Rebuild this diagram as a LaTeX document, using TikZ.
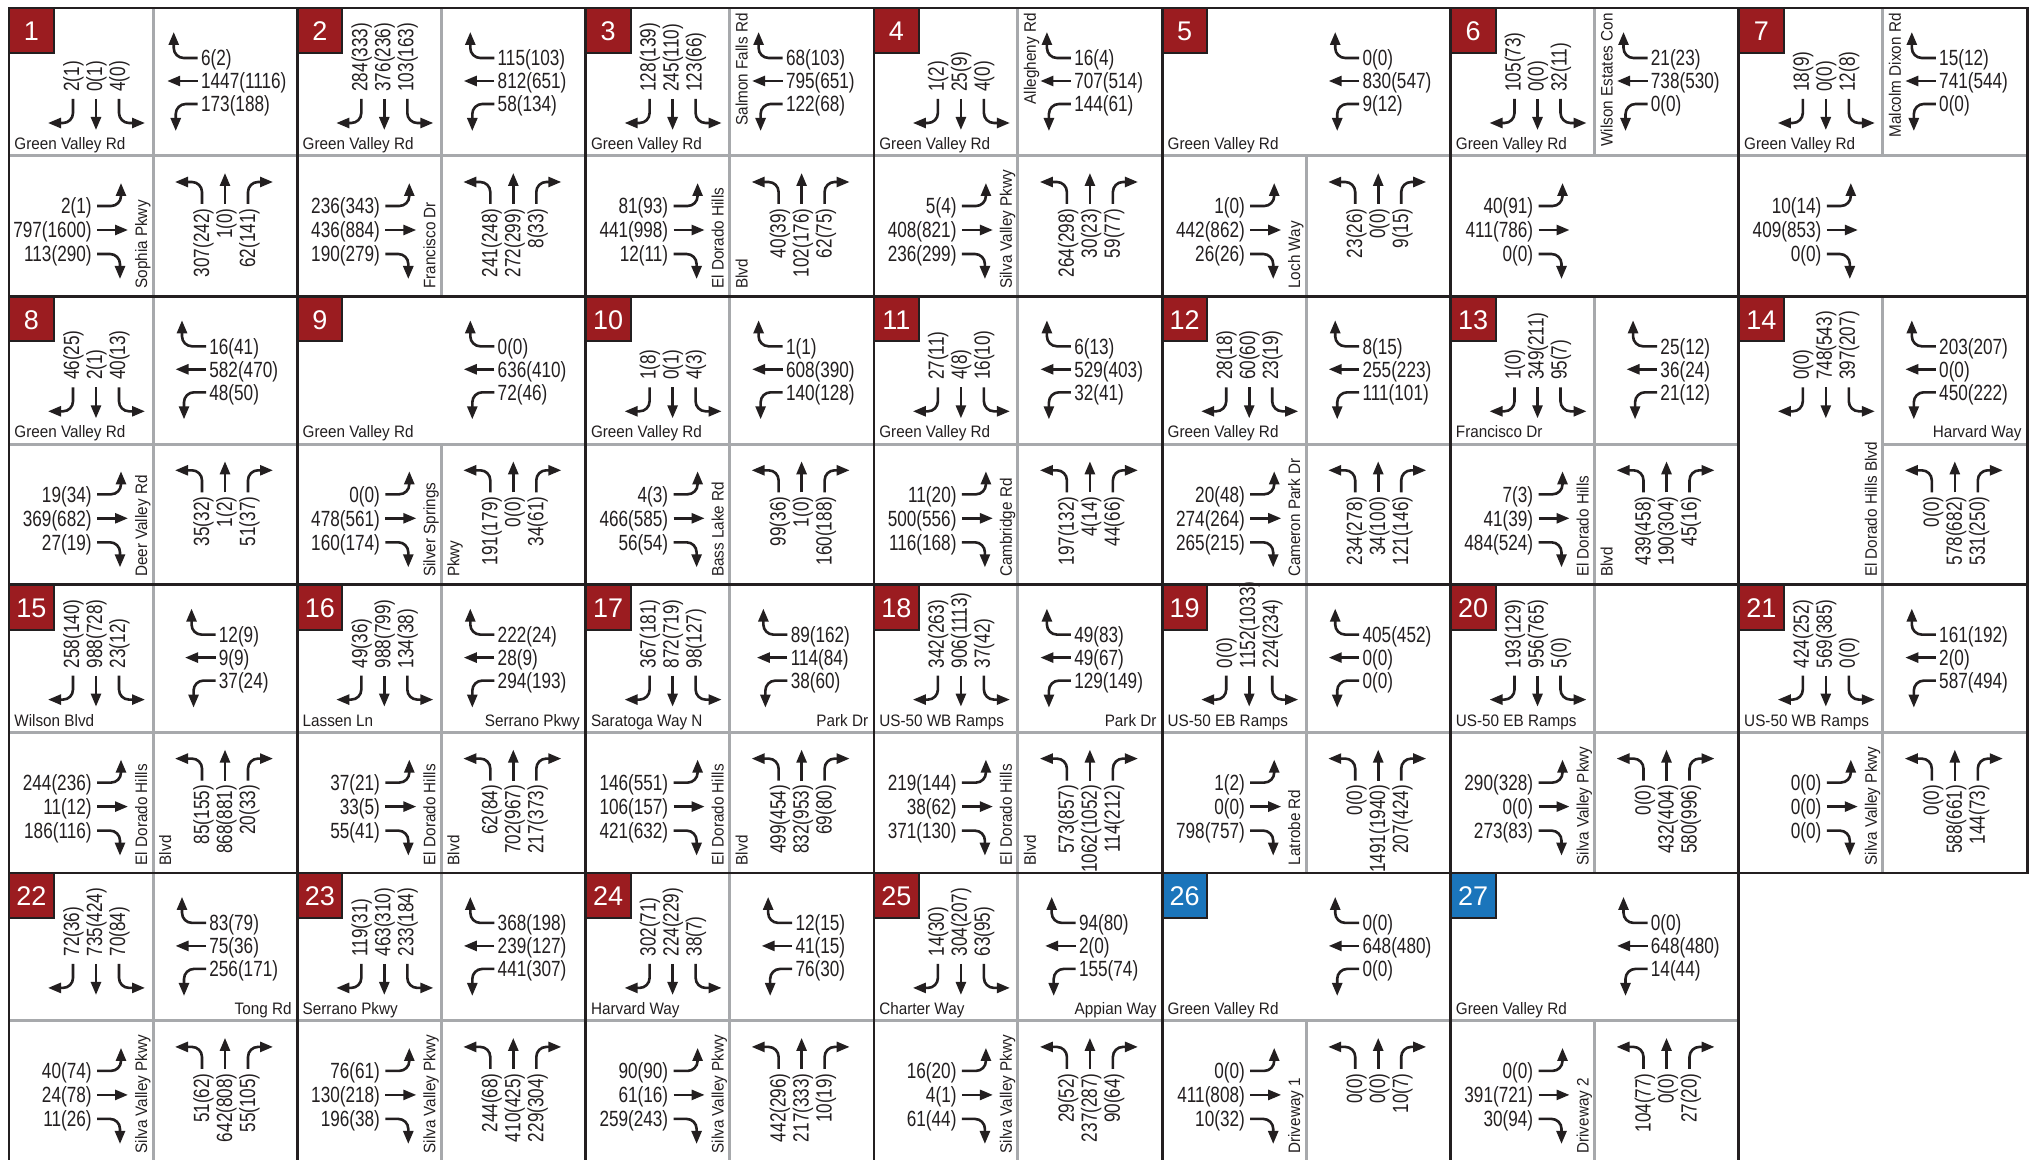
\documentclass[tikz,border=0pt]{standalone}
\usepackage{fontspec}
\setmainfont{Liberation Sans}
\newfontfamily\volfam[FakeStretch=0.78]{Liberation Sans}
\newfontfamily\roadfam[FakeStretch=0.92]{Liberation Sans}
\usetikzlibrary{arrows.meta,calc}
\definecolor{ink}{HTML}{231F20}
\definecolor{divgray}{HTML}{A7A9AC}
\definecolor{boxred}{HTML}{9B1C20}
\definecolor{boxblue}{HTML}{1B75BB}
\newcommand\volfont{\volfam\fontsize{11}{13}\selectfont}
\newcommand\roadfont{\roadfam\fontsize{8.3}{10}\selectfont}
\newcommand\numfont{\fontsize{13.5}{15}\selectfont}
\tikzset{
  mv/.style={draw=ink, line width=1.3pt, rounded corners=5pt, -{Triangle[length=6.5pt,width=5pt]}},
  vol/.style={font=\volfont, text=ink, inner sep=0pt},
  road/.style={font=\roadfont, text=ink, inner sep=0pt},
  divline/.style={draw=divgray, line width=1.5pt},
  cellframe/.style={draw=ink, line width=1.4pt},
  cell/.style n args={2}{shift={({9+288.3*#1},{8+288.3*#2})}},
}
% southbound approach (top-left quadrant)
\newcommand\SBg[3]{%
  \draw[mv] (64,91) -- (64,115) -- (39,115);
  \draw[mv] (87,91) -- (87,122);
  \draw[mv] (110,91) -- (110,115) -- (136,115);
  \node[vol,rotate=90,anchor=base west] (sbA\cid) at (70,84) {#1};
  \node[vol,rotate=90,anchor=base west] (sbB\cid) at (93,84) {#2};
  \node[vol,rotate=90,anchor=base west] (sbC\cid) at (116,84) {#3};
}
% westbound approach (top-right quadrant), group centred in the quadrant
\newcommand\WBg[3]{%
  \node[inner sep=0pt, font=\volfont] (wbk\cid) at (234.75,73)
     {\phantom{\begin{tabular}{@{}l@{}}#1\\#2\\#3\end{tabular}}};
  \draw[mv] ($(wbk\cid.west)+(-3,-23)$) -- ++(-24,0) -- ++(0,-26);
  \draw[mv] ($(wbk\cid.west)+(-3,0)$) -- ++(-30.5,0);
  \draw[mv] ($(wbk\cid.west)+(-3,23)$) -- ++(-22,0) -- ++(0,27);
  \node[vol,anchor=base west] (wbA\cid) at ($(wbk\cid.west)+(0,-15)$) {#1};
  \node[vol,anchor=base west] (wbB\cid) at ($(wbk\cid.west)+(0,8)$) {#2};
  \node[vol,anchor=base west] (wbC\cid) at ($(wbk\cid.west)+(0,31)$) {#3};
}
% eastbound approach (bottom-left quadrant)
\newcommand\EBg[3]{%
  \draw[mv] (88,198) -- (112,198) -- (112,175);
  \draw[mv] (88,222) -- (119,222);
  \draw[mv] (88,246) -- (111,246) -- (111,271);
  \node[vol,anchor=base east] (ebA\cid) at (83,206) {#1};
  \node[vol,anchor=base east] (ebB\cid) at (83,230) {#2};
  \node[vol,anchor=base east] (ebC\cid) at (83,254) {#3};
}
% northbound approach (bottom-right quadrant)
\newcommand\NBg[3]{%
  \draw[mv] (193,196) -- (193,174) -- (166,174);
  \draw[mv] (216,196) -- (216,165);
  \draw[mv] (239,196) -- (239,174) -- (264,174);
  \node[vol,rotate=90,anchor=base east] (nbA\cid) at (200,200) {#1};
  \node[vol,rotate=90,anchor=base east] (nbB\cid) at (223,200) {#2};
  \node[vol,rotate=90,anchor=base east] (nbC\cid) at (246,200) {#3};
}
\newcommand\Num[2]{%
  \fill[#2] (0,0) rectangle (45,45);
  \draw[ink,line width=1pt] (45,0) -- (45,45) -- (0,45);
  \node[font=\numfont,text=white,anchor=base,inner sep=0pt] (num\cid) at (22.5,33) {#1};
}
\newcommand\EWL[1]{\node[road,anchor=base west] (ewl\cid) at (5,141.5) {#1};}
\newcommand\EWR[1]{\node[road,anchor=base east] (ewr\cid) at (283,141.5) {#1};}
\newcommand\NSL[1]{\node[road,rotate=90,anchor=base west] (nsl\cid) at (138,281) {#1};}
\newcommand\NSR[1]{\node[road,rotate=90,anchor=base west] (nsr\cid) at (162,281) {#1};}
\newcommand\NST[1]{\node[road,rotate=90,anchor=base east] (nst\cid) at (162,5) {#1};}
\newcommand\HL{\draw[divline] (0,148) -- (144,148);}
\newcommand\HR{\draw[divline] (144,148) -- (288.3,148);}
\newcommand\VT{\draw[divline] (144,0) -- (144,148);}
\newcommand\VB{\draw[divline] (144,148) -- (144,288.3);}
\begin{document}
\begin{tikzpicture}[x=0.5pt,y=-0.5pt]
\useasboundingbox (0,0) rectangle (2037,1160);
\fill[white] (0,0) rectangle (2037,1160);
% ---------------- row 1
\def\cid{1}\begin{scope}[cell={0}{0}]
\HL\HR\VT\VB\Num{1}{boxred}
\SBg{2(1)}{0(1)}{4(0)}\WBg{6(2)}{1447(1116)}{173(188)}
\EBg{2(1)}{797(1600)}{113(290)}\NBg{307(242)}{1(0)}{62(141)}
\EWL{Green Valley Rd}\NSL{Sophia Pkwy}
\end{scope}
\def\cid{2}\begin{scope}[cell={1}{0}]
\HL\HR\VT\VB\Num{2}{boxred}
\SBg{284(333)}{376(236)}{103(163)}\WBg{115(103)}{812(651)}{58(134)}
\EBg{236(343)}{436(884)}{190(279)}\NBg{241(248)}{272(299)}{8(33)}
\EWL{Green Valley Rd}\NSL{Francisco Dr}
\end{scope}
\def\cid{3}\begin{scope}[cell={2}{0}]
\HL\HR\VT\VB\Num{3}{boxred}
\SBg{128(139)}{245(110)}{123(66)}\WBg{68(103)}{795(651)}{122(68)}
\EBg{81(93)}{441(998)}{12(11)}\NBg{40(39)}{102(176)}{62(75)}
\EWL{Green Valley Rd}\NST{Salmon Falls Rd}\NSL{El Dorado Hills}\NSR{Blvd}
\end{scope}
\def\cid{4}\begin{scope}[cell={3}{0}]
\HL\HR\VT\VB\Num{4}{boxred}
\SBg{1(2)}{25(9)}{4(0)}\WBg{16(4)}{707(514)}{144(61)}
\EBg{5(4)}{408(821)}{236(299)}\NBg{264(298)}{30(23)}{59(77)}
\EWL{Green Valley Rd}\NST{Allegheny Rd}\NSL{Silva Valley Pkwy}
\end{scope}
\def\cid{5}\begin{scope}[cell={4}{0}]
\HL\HR\VB\Num{5}{boxred}
\WBg{0(0)}{830(547)}{9(12)}
\EBg{1(0)}{442(862)}{26(26)}\NBg{23(26)}{0(0)}{9(15)}
\EWL{Green Valley Rd}\NSL{Loch Way}
\end{scope}
\def\cid{6}\begin{scope}[cell={5}{0}]
\HL\HR\VT\Num{6}{boxred}
\SBg{105(73)}{0(0)}{32(11)}\WBg{21(23)}{738(530)}{0(0)}
\EBg{40(91)}{411(786)}{0(0)}
\EWL{Green Valley Rd}\NST{Wilson Estates Con}
\end{scope}
\def\cid{7}\begin{scope}[cell={6}{0}]
\HL\HR\VT\Num{7}{boxred}
\SBg{18(9)}{0(0)}{12(8)}\WBg{15(12)}{741(544)}{0(0)}
\EBg{10(14)}{409(853)}{0(0)}
\EWL{Green Valley Rd}\NST{Malcolm Dixon Rd}
\end{scope}
% ---------------- row 2
\def\cid{8}\begin{scope}[cell={0}{1}]
\HL\HR\VT\VB\Num{8}{boxred}
\SBg{46(25)}{2(1)}{40(13)}\WBg{16(41)}{582(470)}{48(50)}
\EBg{19(34)}{369(682)}{27(19)}\NBg{35(32)}{1(2)}{51(37)}
\EWL{Green Valley Rd}\NSL{Deer Valley Rd}
\end{scope}
\def\cid{9}\begin{scope}[cell={1}{1}]
\HL\HR\VB\Num{9}{boxred}
\WBg{0(0)}{636(410)}{72(46)}
\EBg{0(0)}{478(561)}{160(174)}\NBg{191(179)}{0(0)}{34(61)}
\EWL{Green Valley Rd}\NSL{Silver Springs}\NSR{Pkwy}
\end{scope}
\def\cid{10}\begin{scope}[cell={2}{1}]
\HL\HR\VT\VB\Num{10}{boxred}
\SBg{1(8)}{0(1)}{4(3)}\WBg{1(1)}{608(390)}{140(128)}
\EBg{4(3)}{466(585)}{56(54)}\NBg{99(36)}{1(0)}{160(188)}
\EWL{Green Valley Rd}\NSL{Bass Lake Rd}
\end{scope}
\def\cid{11}\begin{scope}[cell={3}{1}]
\HL\HR\VT\VB\Num{11}{boxred}
\SBg{27(11)}{4(8)}{16(10)}\WBg{6(13)}{529(403)}{32(41)}
\EBg{11(20)}{500(556)}{116(168)}\NBg{197(132)}{4(14)}{44(66)}
\EWL{Green Valley Rd}\NSL{Cambridge Rd}
\end{scope}
\def\cid{12}\begin{scope}[cell={4}{1}]
\HL\HR\VT\VB\Num{12}{boxred}
\SBg{28(18)}{60(60)}{23(19)}\WBg{8(15)}{255(223)}{111(101)}
\EBg{20(48)}{274(264)}{265(215)}\NBg{234(278)}{34(100)}{121(146)}
\EWL{Green Valley Rd}\NSL{Cameron Park Dr}
\end{scope}
\def\cid{13}\begin{scope}[cell={5}{1}]
\HL\HR\VT\VB\Num{13}{boxred}
\SBg{1(0)}{349(211)}{95(7)}\WBg{25(12)}{36(24)}{21(12)}
\EBg{7(3)}{41(39)}{484(524)}\NBg{439(458)}{190(304)}{45(16)}
\EWL{Francisco Dr}\NSL{El Dorado Hills}\NSR{Blvd}
\end{scope}
\def\cid{14}\begin{scope}[cell={6}{1}]
\HR\VT\VB\Num{14}{boxred}
\SBg{0(0)}{748(543)}{397(207)}\WBg{203(207)}{0(0)}{450(222)}
\NBg{0(0)}{578(682)}{531(250)}
\EWR{Harvard Way}\NSL{El Dorado Hills Blvd}
\end{scope}
% ---------------- row 3
\def\cid{15}\begin{scope}[cell={0}{2}]
\HL\HR\VT\VB\Num{15}{boxred}
\SBg{258(140)}{988(728)}{23(12)}\WBg{12(9)}{9(9)}{37(24)}
\EBg{244(236)}{11(12)}{186(116)}\NBg{85(155)}{868(881)}{20(33)}
\EWL{Wilson Blvd}\NSL{El Dorado Hills}\NSR{Blvd}
\end{scope}
\def\cid{16}\begin{scope}[cell={1}{2}]
\HL\HR\VT\VB\Num{16}{boxred}
\SBg{49(36)}{988(799)}{134(38)}\WBg{222(24)}{28(9)}{294(193)}
\EBg{37(21)}{33(5)}{55(41)}\NBg{62(84)}{702(967)}{217(373)}
\EWL{Lassen Ln}\EWR{Serrano Pkwy}\NSL{El Dorado Hills}\NSR{Blvd}
\end{scope}
\def\cid{17}\begin{scope}[cell={2}{2}]
\HL\HR\VT\VB\Num{17}{boxred}
\SBg{367(181)}{872(719)}{98(127)}\WBg{89(162)}{114(84)}{38(60)}
\EBg{146(551)}{106(157)}{421(632)}\NBg{499(454)}{832(953)}{69(80)}
\EWL{Saratoga Way N}\EWR{Park Dr}\NSL{El Dorado Hills}\NSR{Blvd}
\end{scope}
\def\cid{18}\begin{scope}[cell={3}{2}]
\HL\HR\VT\VB\Num{18}{boxred}
\SBg{342(263)}{906(1113)}{37(42)}\WBg{49(83)}{49(67)}{129(149)}
\EBg{219(144)}{38(62)}{371(130)}\NBg{573(857)}{1062(1052)}{114(212)}
\EWL{US-50 WB Ramps}\EWR{Park Dr}\NSL{El Dorado Hills}\NSR{Blvd}
\end{scope}
\def\cid{19}\begin{scope}[cell={4}{2}]
\HL\HR\VT\VB\Num{19}{boxred}
\SBg{0(0)}{1152(1033)}{224(234)}\WBg{405(452)}{0(0)}{0(0)}
\EBg{1(2)}{0(0)}{798(757)}\NBg{0(0)}{1491(1940)}{207(424)}
\EWL{US-50 EB Ramps}\NSL{Latrobe Rd}
\end{scope}
\def\cid{20}\begin{scope}[cell={5}{2}]
\HL\HR\VT\VB\Num{20}{boxred}
\SBg{193(129)}{956(765)}{5(0)}
\EBg{290(328)}{0(0)}{273(83)}\NBg{0(0)}{432(404)}{580(996)}
\EWL{US-50 EB Ramps}\NSL{Silva Valley Pkwy}
\end{scope}
\def\cid{21}\begin{scope}[cell={6}{2}]
\HL\HR\VT\VB\Num{21}{boxred}
\SBg{424(252)}{569(385)}{0(0)}\WBg{161(192)}{2(0)}{587(494)}
\EBg{0(0)}{0(0)}{0(0)}\NBg{0(0)}{588(661)}{144(73)}
\EWL{US-50 WB Ramps}\NSL{Silva Valley Pkwy}
\end{scope}
% ---------------- row 4
\def\cid{22}\begin{scope}[cell={0}{3}]
\HL\HR\VT\VB\Num{22}{boxred}
\SBg{72(36)}{735(424)}{70(84)}\WBg{83(79)}{75(36)}{256(171)}
\EBg{40(74)}{24(78)}{11(26)}\NBg{51(62)}{642(808)}{55(105)}
\EWR{Tong Rd}\NSL{Silva Valley Pkwy}
\end{scope}
\def\cid{23}\begin{scope}[cell={1}{3}]
\HL\HR\VT\VB\Num{23}{boxred}
\SBg{119(31)}{463(310)}{233(184)}\WBg{368(198)}{239(127)}{441(307)}
\EBg{76(61)}{130(218)}{196(38)}\NBg{244(68)}{410(425)}{229(304)}
\EWL{Serrano Pkwy}\NSL{Silva Valley Pkwy}
\end{scope}
\def\cid{24}\begin{scope}[cell={2}{3}]
\HL\HR\VT\VB\Num{24}{boxred}
\SBg{302(71)}{224(229)}{38(7)}\WBg{12(15)}{41(15)}{76(30)}
\EBg{90(90)}{61(16)}{259(243)}\NBg{442(296)}{217(333)}{10(19)}
\EWL{Harvard Way}\NSL{Silva Valley Pkwy}
\end{scope}
\def\cid{25}\begin{scope}[cell={3}{3}]
\HL\HR\VT\VB\Num{25}{boxred}
\SBg{14(30)}{304(207)}{63(95)}\WBg{94(80)}{2(0)}{155(74)}
\EBg{16(20)}{4(1)}{61(44)}\NBg{29(52)}{237(287)}{90(64)}
\EWL{Charter Way}\EWR{Appian Way}\NSL{Silva Valley Pkwy}
\end{scope}
\def\cid{26}\begin{scope}[cell={4}{3}]
\HL\HR\VB\Num{26}{boxblue}
\WBg{0(0)}{648(480)}{0(0)}
\EBg{0(0)}{411(808)}{10(32)}\NBg{0(0)}{0(0)}{10(7)}
\EWL{Green Valley Rd}\NSL{Driveway 1}
\end{scope}
\def\cid{27}\begin{scope}[cell={5}{3}]
\HL\HR\VB\Num{27}{boxblue}
\WBg{0(0)}{648(480)}{14(44)}
\EBg{0(0)}{391(721)}{30(94)}\NBg{104(77)}{0(0)}{27(20)}
\EWL{Green Valley Rd}\NSL{Driveway 2}
\end{scope}
% ---------------- cell frames
\foreach \r in {0,1,2,3}{\foreach \c in {0,...,6}{%
  \ifnum\r\c=36 \else
  \draw[cellframe] ({9+288.3*\c},{8+288.3*\r}) rectangle ++(288.3,288.3);
  \fi}}
\end{tikzpicture}
\end{document}
